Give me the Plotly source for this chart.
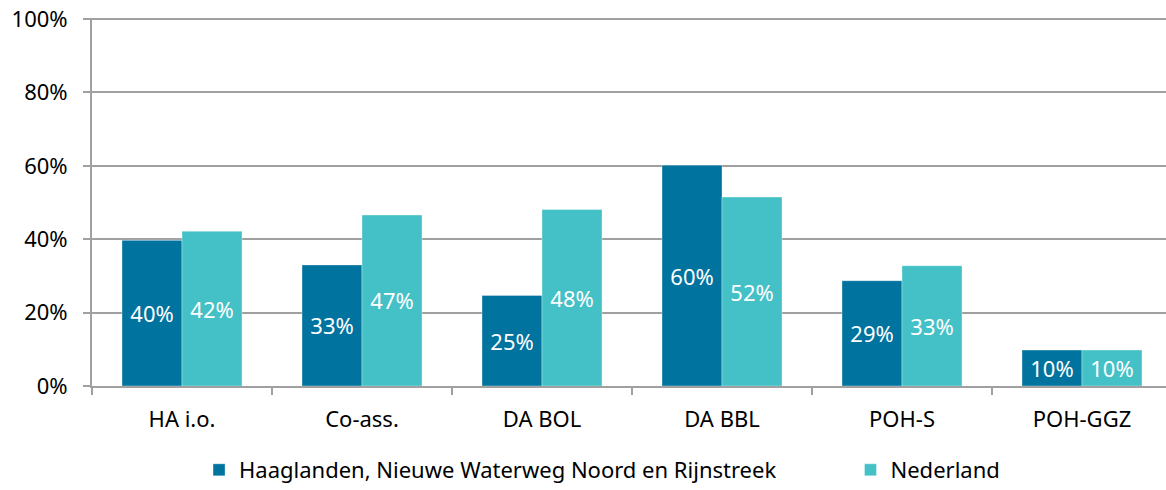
import plotly.graph_objects as go

categories = ["HA i.o.", "Co-ass.", "DA BOL", "DA BBL", "POH-S", "POH-GGZ"]
regio = [39.7, 33.0, 24.7, 60.2, 28.7, 9.8]
nederland = [42.2, 46.6, 48.1, 51.5, 32.8, 9.8]
labels_regio = ["40%", "33%", "25%", "60%", "29%", "10%"]
labels_nl = ["42%", "47%", "48%", "52%", "33%", "10%"]
series_names = ["Haaglanden, Nieuwe Waterweg Noord en Rijnstreek", "Nederland"]
yticks = [0, 20, 40, 60, 80, 100]

FONT = "Noto Sans"
FS = 22

fig = go.Figure()
fig.add_trace(go.Bar(
    x=categories, y=regio, name=series_names[0], text=labels_regio,
    textposition="inside", insidetextanchor="middle",
    textfont=dict(color="white", size=FS, family=FONT),
    marker=dict(color="#00739F", line=dict(color="rgba(255,255,255,0.35)", width=1)),
    hoverinfo="skip", legend="legend",
))
fig.add_trace(go.Bar(
    x=categories, y=nederland, name=series_names[1], text=labels_nl,
    textposition="inside", insidetextanchor="middle",
    textfont=dict(color="white", size=FS, family=FONT),
    marker=dict(color="#43C1C6", line=dict(color="rgba(255,255,255,0.35)", width=1)),
    hoverinfo="skip", legend="legend2",
))

leg_common = dict(orientation="h", xref="container", xanchor="left",
                  yref="container", yanchor="middle", y=0.0408,
                  font=dict(size=FS, family=FONT, color="#000000"),
                  itemwidth=30, bgcolor="rgba(0,0,0,0)")

fig.update_layout(
    width=1166, height=490,
    margin=dict(l=92, r=0, t=18, b=104, autoexpand=False),
    paper_bgcolor="white", plot_bgcolor="white",
    barmode="group", bargap=1/3, bargroupgap=0,
    uniformtext=dict(minsize=14, mode="show"),
    font=dict(family=FONT, size=FS, color="#000000"),
    showlegend=True,
    legend=dict(x=0.1707, **leg_common),
    legend2=dict(x=0.7294, **leg_common),
    xaxis=dict(
        range=[-0.5, 5.4667], type="category", automargin=False,
        showline=True, linecolor="#A0A0A0", linewidth=2,
        ticks="outside", tickson="boundaries", ticklen=7,
        tickcolor="#A0A0A0", tickwidth=2,
        showgrid=False, tickfont=dict(size=FS, family=FONT),
        ticklabelstandoff=13,
    ),
    yaxis=dict(
        range=[0, 100.3], tickvals=yticks, automargin=False,
        ticktext=[f"{v}%" for v in yticks],
        ticklabeloverflow="allow",
        showline=True, linecolor="#A0A0A0", linewidth=2,
        ticks="outside", ticklen=7, tickcolor="#A0A0A0", tickwidth=2,
        showgrid=True, gridcolor="#A0A0A0", gridwidth=2,
        zeroline=False, tickfont=dict(size=FS, family=FONT),
        ticklabelstandoff=11,
    ),
)

fig.write_html("out.html", config={"displayModeBar": False},
               post_script="document.body.style.margin='0';")
